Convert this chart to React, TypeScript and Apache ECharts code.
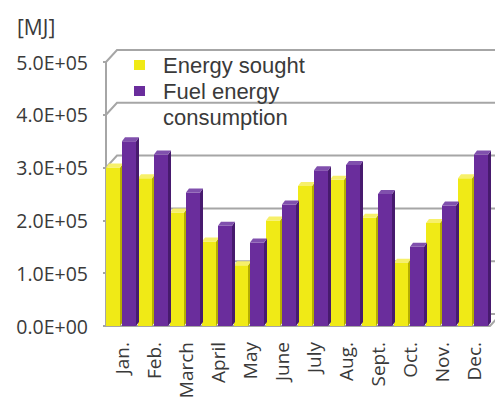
import React, { useEffect, useRef } from "react";
import * as echarts from "echarts";

const months = ["Jan.", "Feb.", "March", "April", "May", "June", "July", "Aug.", "Sept.", "Oct.", "Nov.", "Dec."];
const energySought = [300000, 280000, 215000, 160000, 115000, 200000, 265000, 277000, 205000, 120000, 195000, 280000];
const fuelConsumption = [350000, 325000, 253000, 190000, 158000, 230000, 295000, 305000, 250000, 150000, 228000, 325000];
const yTicks = [0, 100000, 200000, 300000, 400000, 500000];
const seriesNames = ["Energy sought", "Fuel energy consumption"];
const legendLines: Record<string, string[]> = {
  "Energy sought": ["Energy sought"],
  "Fuel energy consumption": ["Fuel energy", "consumption"],
};

const FONT = "'Open Sans', 'Noto Sans', sans-serif";
const LEGEND_FONT = "'Liberation Sans', Arial, sans-serif";
const TEXT = "#3a3a3a";
const DX = 11; // back wall offset
const DY = 12;
const BDX = 3; // bar depth
const BDY = 4;

function fmtSci(v: number): string {
  if (v === 0) return "0.0E+00";
  const e = Math.floor(Math.log10(v));
  const m = v / Math.pow(10, e);
  return m.toFixed(1) + "E+" + String(e).padStart(2, "0");
}

function barRenderer(side: "left" | "right", front: string, sideCol: string, topCol: string) {
  return (params: any, api: any) => {
    const cat = api.value(0);
    const val = api.value(1);
    const top = api.coord([cat, val]);
    const base = api.coord([cat, 0]);
    const band = api.size([1, 0])[0];
    const w = band / 2;
    const xl = side === "left" ? top[0] - w : top[0];
    const fw = w - BDX + 1;
    const yt = top[1];
    const yb = base[1];
    return {
      type: "group",
      children: [
        {
          type: "rect",
          shape: { x: xl, y: yt, width: fw, height: yb - yt },
          style: { fill: front },
        },
        {
          type: "polygon",
          shape: {
            points: [
              [xl + fw, yt],
              [xl + fw + BDX, yt - BDY],
              [xl + fw + BDX, yb - BDY],
              [xl + fw, yb],
            ],
          },
          style: { fill: sideCol },
        },
        {
          type: "polygon",
          shape: {
            points: [
              [xl, yt],
              [xl + BDX, yt - BDY],
              [xl + fw + BDX, yt - BDY],
              [xl + fw, yt],
            ],
          },
          style: { fill: topCol },
        },
      ],
    };
  };
}

export default function App() {
  const ref = useRef<HTMLDivElement>(null);
  useEffect(() => {
    if (!ref.current) return;
    const chart = echarts.init(ref.current, null, { renderer: "svg" });
    const option: any = {
      animation: false,
      backgroundColor: "#ffffff",
      textStyle: { fontFamily: FONT },
      title: {
        text: "[MJ]",
        left: 17,
        top: 16,
        padding: 0,
        textStyle: { fontFamily: FONT, fontSize: 21, fontWeight: "normal", color: TEXT },
      },
      grid: { left: 106, top: 62, width: 384, bottom: 73, outerBoundsMode: "none", containLabel: false },
      xAxis: {
        type: "category",
        data: months,
        axisLine: { show: false },
        axisTick: { show: false },
        axisLabel: {
          rotate: 90,
          margin: 16,
          interval: 0,
          fontSize: 19,
          color: TEXT,
          fontFamily: FONT,
        },
      },
      yAxis: {
        type: "value",
        min: 0,
        max: 500000,
        interval: 100000,
        axisLine: { show: true, lineStyle: { color: "#a6a6a6", width: 2 } },
        axisTick: { show: true, length: 3, lineStyle: { color: "#a6a6a6", width: 2 } },
        splitLine: { show: false },
        axisLabel: {
          formatter: fmtSci,
          margin: 18,
          fontSize: 19.5,
          color: TEXT,
          fontFamily: FONT,
        },
      },
      legend: {
        data: seriesNames,
        orient: "vertical",
        left: 134,
        top: 52.5,
        padding: 0,
        itemGap: 1,
        icon: "rect",
        itemWidth: 11,
        itemHeight: 10,
        selectedMode: false,
        formatter: (name: string) => legendLines[name][0],
        textStyle: { fontSize: 22, lineHeight: 25, color: TEXT, fontFamily: LEGEND_FONT, padding: [0, 0, 0, 13] },
      },
      graphic: [
        {
          type: "text",
          left: 163,
          top: 104.5,
          silent: true,
          style: {
            text: legendLines["Fuel energy consumption"][1],
            fontSize: 22,
            lineHeight: 25,
            fontFamily: LEGEND_FONT,
            fill: TEXT,
          },
        },
      ],
      series: [
        {
          type: "custom",
          name: "frame",
          z: 1,
          silent: true,
          clip: false,
          data: yTicks.map((v) => [0, v]),
          renderItem: (params: any, api: any) => {
            const cs = params.coordSys;
            const v = api.value(1);
            const y = api.coord([0, v])[1];
            const x0 = cs.x;
            const x1 = cs.x + cs.width;
            const stroke = { stroke: "#a6a6a6", lineWidth: 2, fill: "none" };
            if (v === 0) {
              return {
                type: "group",
                children: [
                  {
                    type: "polyline",
                    shape: { points: [[x0, y], [x0 + DX, y - DY], [x1 + DX, y - DY]] },
                    style: stroke,
                  },
                  {
                    type: "polyline",
                    shape: { points: [[x0 - 3, y], [x1, y], [x1 + DX, y - DY]] },
                    style: stroke,
                  },
                ],
              };
            }
            return {
              type: "polyline",
              shape: { points: [[x0, y], [x0 + DX, y - DY], [x1 + DX, y - DY]] },
              style: stroke,
            };
          },
        },
        {
          type: "custom",
          name: seriesNames[0],
          z: 3,
          clip: false,
          itemStyle: { color: "#f0ea16" },
          data: energySought.map((v, i) => [i, v]),
          renderItem: barRenderer("left", "#f0ea16", "#b5ae00", "#f7f06a"),
        },
        {
          type: "custom",
          name: seriesNames[1],
          z: 4,
          clip: false,
          itemStyle: { color: "#6a2d9c" },
          data: fuelConsumption.map((v, i) => [i, v]),
          renderItem: barRenderer("right", "#6a2d9c", "#471a6e", "#8050ad"),
        },
      ],
    };
    chart.setOption(option);
    return () => chart.dispose();
  }, []);
  return (
    <div
      ref={ref}
      style={{ position: "fixed", left: 0, top: 0, width: 495, height: 399 }}
    />
  );
}
